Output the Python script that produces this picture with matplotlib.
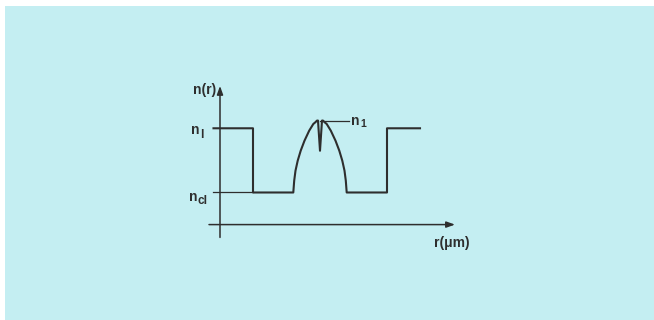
import matplotlib
matplotlib.use("Agg")
import matplotlib.pyplot as plt
from matplotlib.patches import Rectangle

# refractive index levels (arbitrary units)
n_cl = 1.0
n_l = 2.0
n_1 = 2.12
n_dip = 1.65

# outer step profile: ring of index n_l, trench at n_cl
r_start = -10.65
r_step = 6.7
r_end = 10.0

# graded core (|r|, n) from the core edge up to the top
core_r = [2.67, 2.58, 2.45, 2.23, 1.93, 1.55, 1.08, 0.67, 0.47, 0.3]
core_n = [1.0, 1.184, 1.34, 1.495, 1.651, 1.807, 1.963, 2.067, 2.093, 2.12]
dip_half = 0.2

# axes
r_axis = -10.0
n_axis = 0.5
r_axis_lo, r_axis_hi = -11.1, 13.5
n_axis_lo, n_axis_hi = 0.3, 2.66

ink = "#2e2e2e"
bg = "#c4eef2"

fig = plt.figure(figsize=(6.54, 3.2), dpi=100)
fig.patch.set_facecolor("white")
ax = fig.add_axes([0, 0, 1, 1])
ax.set_facecolor("none")
ax.set_xlim(-32, 33.4)
ax.set_ylim(-0.986, 3.998)
ax.axis("off")
ax.add_patch(Rectangle((5 / 654, 0), 1, 314 / 320, transform=fig.transFigure,
                       facecolor=bg, edgecolor="none", zorder=0))

# build the profile polyline
left_r = [-x for x in core_r]
right_r = core_r[::-1]
prof_r = [r_start, -r_step, -r_step] + left_r + [-dip_half, 0, dip_half] + right_r + [r_step, r_step, r_end]
prof_n = [n_l, n_l, n_cl] + core_n + [n_1, n_dip, n_1] + core_n[::-1] + [n_cl, n_l, n_l]
ax.plot(prof_r, prof_n, color=ink, lw=1.5, solid_joinstyle="round", zorder=3)

# thin guide lines
ax.plot([r_start, -r_step], [n_cl, n_cl], color=ink, lw=0.9, zorder=2)
ax.plot([0, 2.9], [n_1, n_1], color=ink, lw=0.9, zorder=2)

# axes with arrows
arrow = dict(arrowstyle="-|>,head_length=0.5,head_width=0.18", lw=1.1, color=ink,
             shrinkA=0, shrinkB=0)
ax.annotate("", xy=(r_axis_hi, n_axis), xytext=(r_axis_lo, n_axis), arrowprops=arrow, zorder=2)
ax.annotate("", xy=(r_axis, n_axis_hi), xytext=(r_axis, n_axis_lo), arrowprops=arrow, zorder=2)

font = dict(family="Liberation Sans", weight="bold", color=ink, zorder=4)
ax.text(-10.4, 2.60, "n(r)", fontsize=10, ha="right", va="center", **font)
ax.text(-12.9, 1.97, "n", fontsize=10, ha="left", va="center", **font)
ax.text(-12.0, 1.90, "l", fontsize=8.5, ha="left", va="center", **font)
ax.text(-13.1, 0.93, "n", fontsize=10, ha="left", va="center", **font)
ax.text(-12.2, 0.86, "cl", fontsize=8.5, ha="left", va="center", **font)
ax.text(3.1, 2.12, "n", fontsize=10, ha="left", va="center", **font)
ax.text(4.0, 2.06, "1", fontsize=7.5, ha="left", va="center", **font)
ax.text(13.2, 0.22, "r(\u03bcm)", fontsize=10, ha="center", va="center", **font)

fig.savefig("out.png", dpi=100, facecolor=fig.get_facecolor())
